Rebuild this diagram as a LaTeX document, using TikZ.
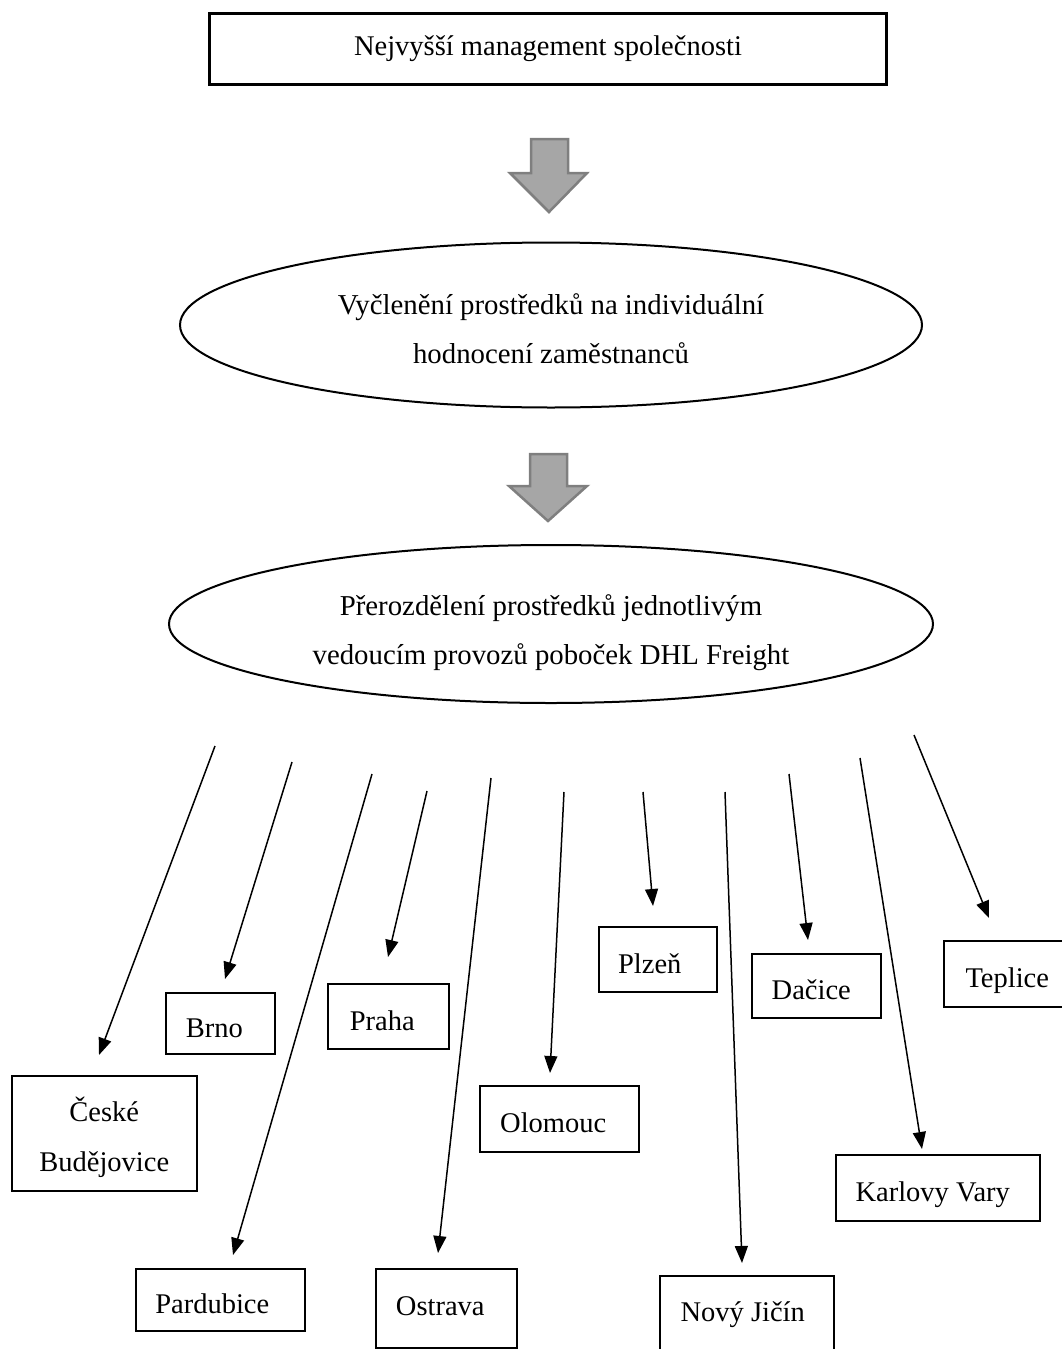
\documentclass[tikz,border=0pt]{standalone}
\usepackage{fontspec}
\setmainfont{Liberation Serif}
\usetikzlibrary{arrows.meta,shapes.geometric}
\definecolor{blockfill}{HTML}{A6A6A6}
\definecolor{blockline}{HTML}{7F7F7F}
\begin{document}
\begin{tikzpicture}[x=1pt,y=-1pt,
  city/.style={draw, line width=1.5pt, rectangle, anchor=north west, inner sep=0pt, font=\fontsize{28.5}{50}\selectfont},
  lowtext/.style={text height=28pt, text depth=0pt},
  lefttext/.style={execute at end node={\kern12pt}},
  topbox/.style={draw, line width=3pt, rectangle, anchor=north west, inner sep=0pt, font=\fontsize{28.5}{34}\selectfont},
  oval/.style={draw, ellipse, line width=2pt, inner sep=0pt, align=center, font=\fontsize{28.8}{49}\selectfont},
  conn/.style={line width=1.5pt, -{Triangle[length=17pt,width=13pt]}},
  blockarrow/.style={fill=blockfill, draw=blockline, line width=2.5pt, line join=miter}]
\useasboundingbox (0,0) rectangle (1062,1349);
\clip (0,0) rectangle (1062,1349);

% top box
\node[topbox, minimum width=677pt, minimum height=71pt] (top) at (208,12) {Nejvyšší management společnosti};

% block arrows
\draw[blockarrow] (531,139) -- (568,139) -- (568,173) -- (587,173) -- (549,212) -- (510,173) -- (531,173) -- cycle;
\draw[blockarrow] (530,454) -- (567,454) -- (567,486) -- (587,486) -- (548,521) -- (509,486) -- (530,486) -- cycle;

% ellipses
\node[oval, minimum width=742pt, minimum height=165pt] (e1) at (551,325) {\rule{0pt}{28pt}Vyčlenění prostředků na individuální\\hodnocení zaměstnanců};
\node[oval, minimum width=764pt, minimum height=158pt] (e2) at (551,624) {\rule{0pt}{38pt}Přerozdělení prostředků jednotlivým\\vedoucím provozů poboček DHL Freight};

% city boxes
\node[city, align=center, minimum width=185pt, minimum height=115pt] (cb) at (11,1075) {\rule{0pt}{32pt}České\\Budějovice};
\node[city, lowtext, lefttext, minimum width=109pt, minimum height=61pt] (brno) at (165,992) {Brno};
\node[city, lowtext, lefttext, minimum width=121pt, minimum height=65pt] (praha) at (327,983) {Praha};
\node[city, lowtext, execute at end node={\kern16pt}, minimum width=169pt, minimum height=62pt] (pard) at (135,1268) {Pardubice};
\node[city, lefttext, text height=14pt, text depth=0pt, minimum width=141pt, minimum height=79pt] (ostr) at (375,1268) {Ostrava};
\node[city, lowtext, lefttext, minimum width=159pt, minimum height=66pt] (olom) at (479,1085) {Olomouc};
\node[city, lowtext, execute at end node={\kern16pt}, minimum width=118pt, minimum height=65pt] (plzen) at (598,926) {Plzeň};
\node[city, execute at end node={\kern8pt}, minimum width=174pt, minimum height=77pt] (nj) at (659,1275) {Nový Jičín};
\node[city, lowtext, execute at end node={\kern10pt}, minimum width=129pt, minimum height=64pt] (dac) at (751,953) {Dačice};
\node[city, lowtext, execute at end node={\kern10pt}, minimum width=204pt, minimum height=66pt] (kv) at (835,1154) {Karlovy Vary};
\node[city, lowtext, minimum width=127pt, minimum height=66pt] (tep) at (943,940) {Teplice};

% connector ends
\coordinate (s1) at (215,746);  \coordinate (t1) at (99,1055);
\coordinate (s2) at (292,762);  \coordinate (t2) at (225,979);
\coordinate (s3) at (372,774);  \coordinate (t3) at (233,1255);
\coordinate (s4) at (427,791);  \coordinate (t4) at (388,957);
\coordinate (s5) at (491,778);  \coordinate (t5) at (438,1253);
\coordinate (s6) at (564,792);  \coordinate (t6) at (550,1073);
\coordinate (s7) at (643,792);  \coordinate (t7) at (653,906);
\coordinate (s8) at (725,792);  \coordinate (t8) at (742,1263);
\coordinate (s9) at (789,774);  \coordinate (t9) at (808,940);
\coordinate (s10) at (860,758); \coordinate (t10) at (922,1149);
\coordinate (s11) at (914,735); \coordinate (t11) at (989,918);

\foreach \i in {1,...,11} {\draw[conn] (s\i) -- (t\i);}
\end{tikzpicture}
\end{document}
